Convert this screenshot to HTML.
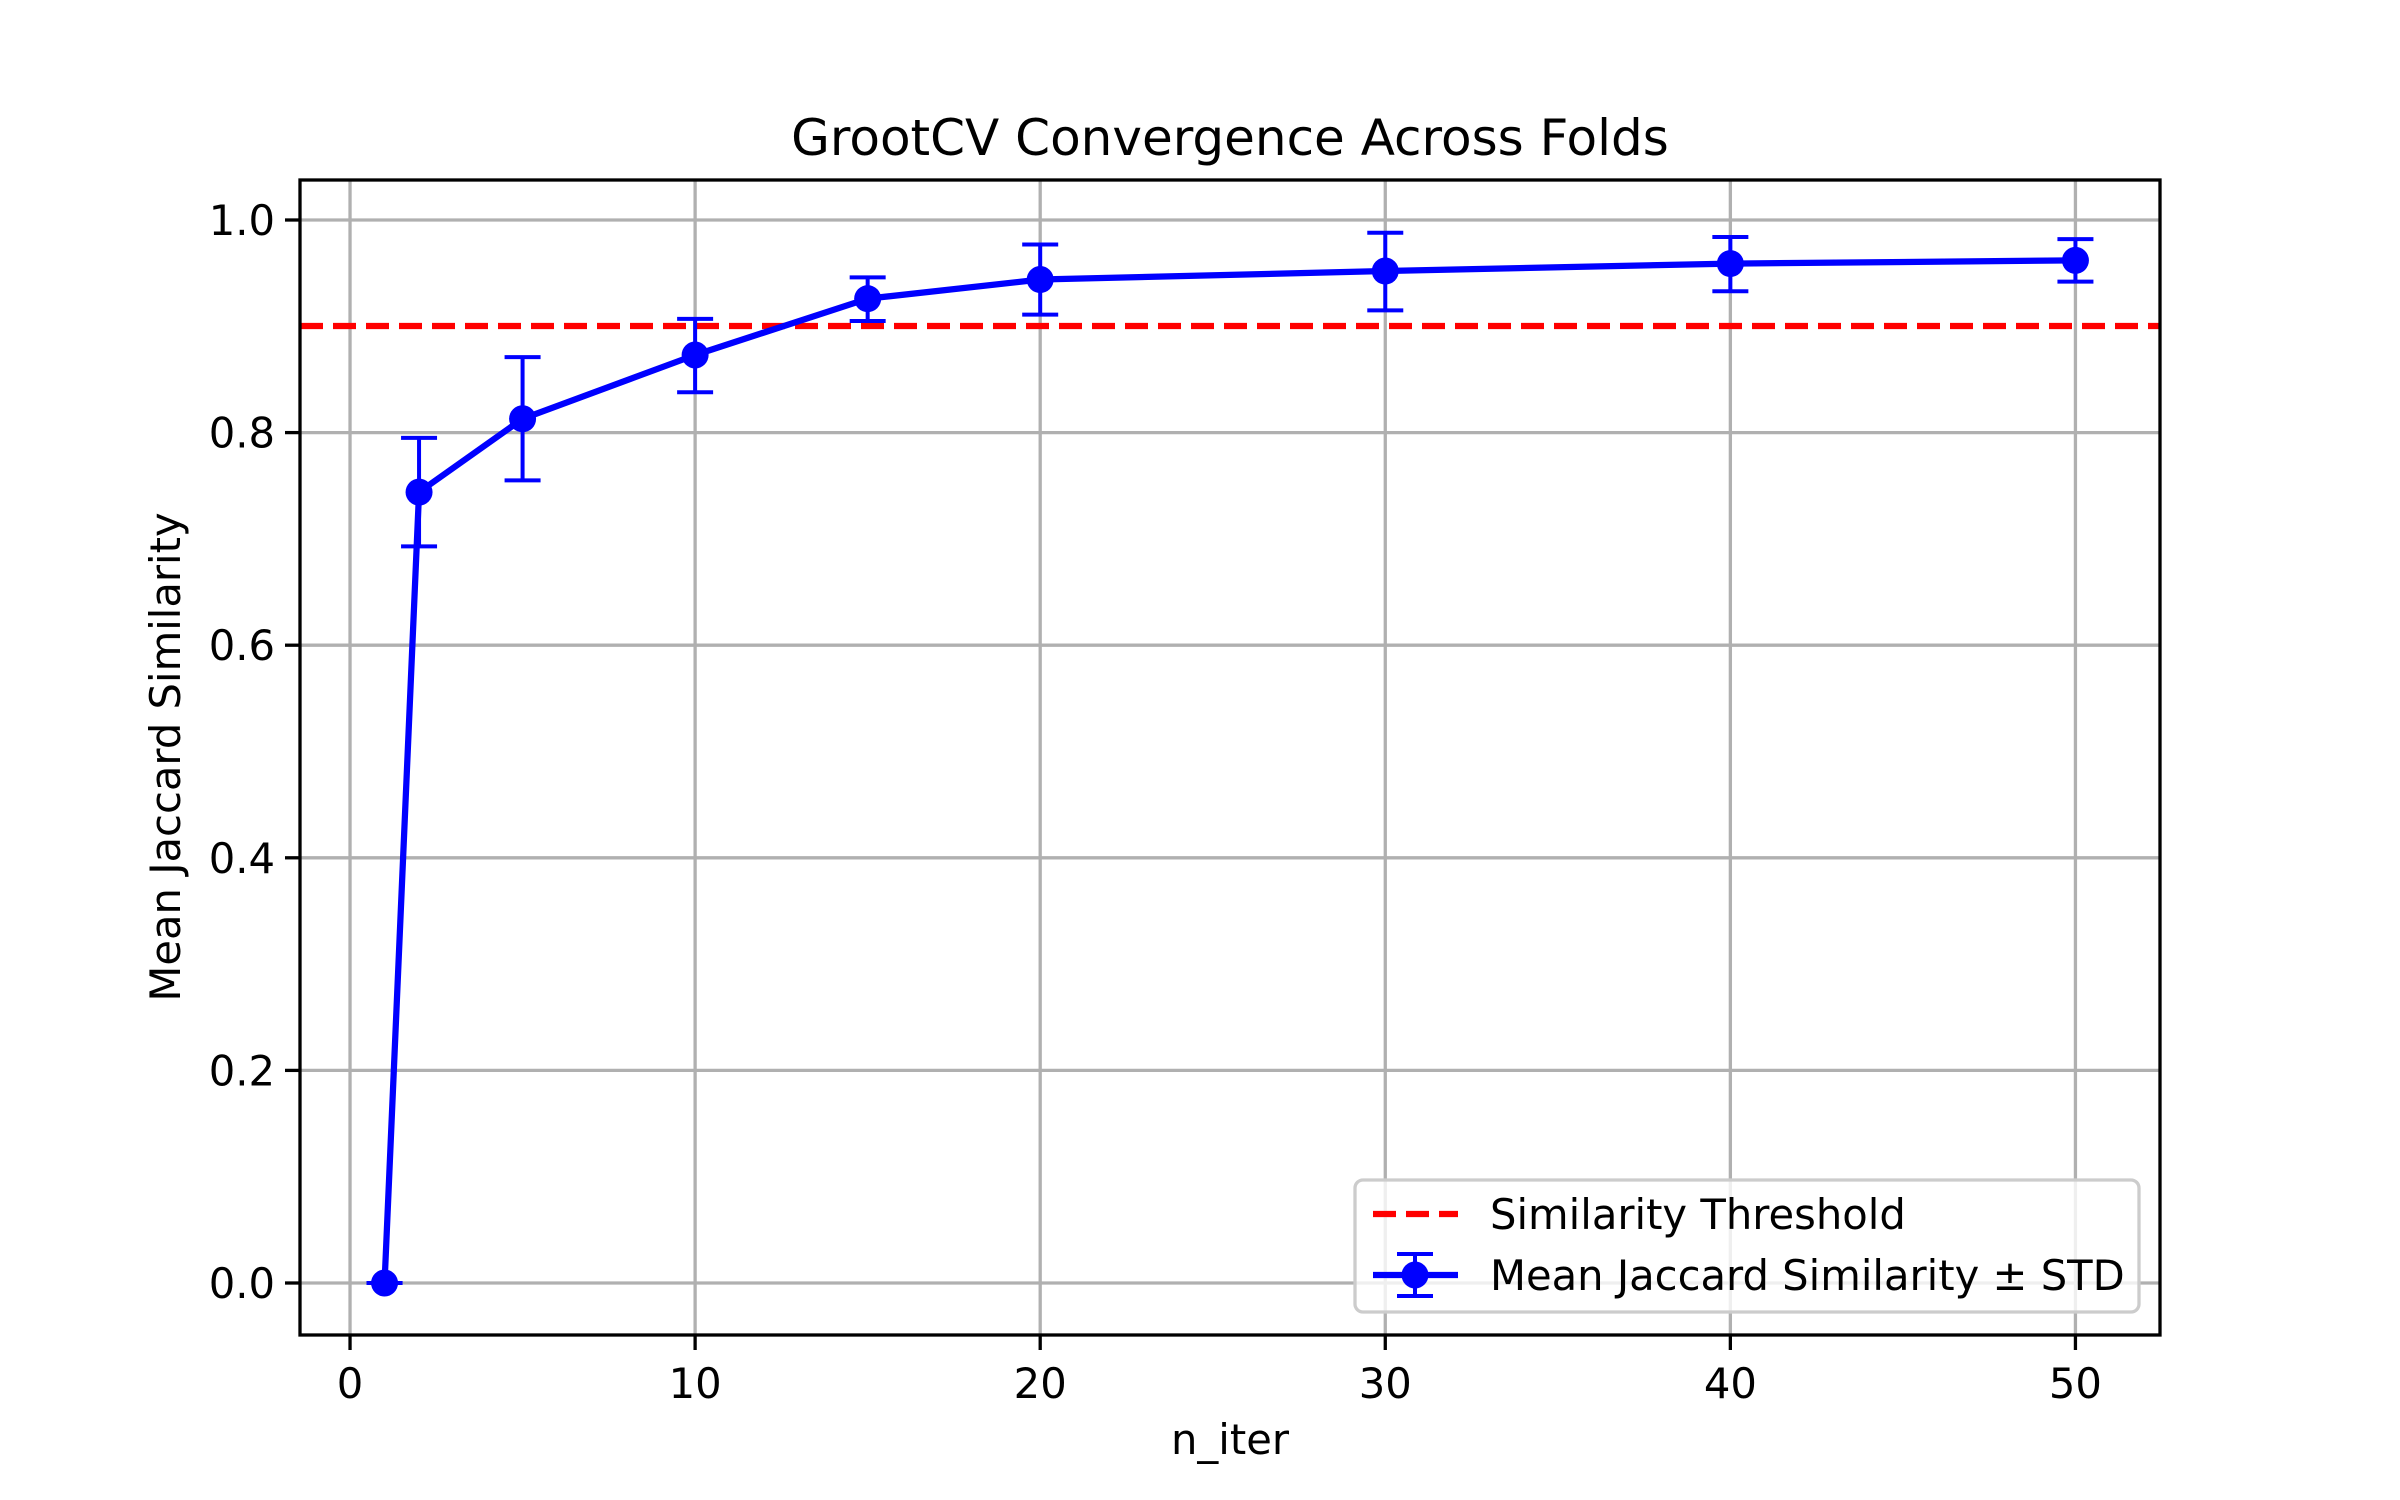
<!DOCTYPE html>
<html><head><meta charset="utf-8"><style>
html,body{margin:0;padding:0;background:#fff;width:2400px;height:1500px;overflow:hidden}
svg{display:block;font-family:"DejaVu Sans","Liberation Sans",sans-serif}
</style></head><body>
<svg id="s" width="2400" height="1500" viewBox="0 0 2400 1500" xmlns="http://www.w3.org/2000/svg">
<rect width="2400" height="1500" fill="#fff"/>
<g id="grid"></g>
<line x1="300" y1="326" x2="2160" y2="326" stroke="#ff0000" stroke-width="6.25" stroke-dasharray="23,10"/>
<g id="data"></g>
<rect x="300" y="180" width="1860" height="1155" fill="none" stroke="#000" stroke-width="3.3"/>
<g id="ticks" font-size="41.7" fill="#000"></g>
<text x="1230" y="155" font-size="50" text-anchor="middle">GrootCV Convergence Across Folds</text>
<text x="1230" y="1454" font-size="41.7" text-anchor="middle">n_iter</text>
<text transform="translate(180,757) rotate(-90)" font-size="41.7" text-anchor="middle">Mean Jaccard Similarity</text>
<rect x="1355" y="1180" width="784" height="132" rx="8" fill="#fff" fill-opacity="0.8" stroke="#ccc" stroke-width="3.3"/>
<line x1="1373" y1="1214" x2="1458" y2="1214" stroke="#ff0000" stroke-width="6.25" stroke-dasharray="23,10"/>
<text x="1490" y="1229" font-size="41.7">Similarity Threshold</text>
<line x1="1373" y1="1275" x2="1458" y2="1275" stroke="#0000ff" stroke-width="6.25"/>
<line x1="1415" y1="1254" x2="1415" y2="1296" stroke="#0000ff" stroke-width="4"/>
<line x1="1397" y1="1254" x2="1433" y2="1254" stroke="#0000ff" stroke-width="4"/>
<line x1="1397" y1="1296" x2="1433" y2="1296" stroke="#0000ff" stroke-width="4"/>
<circle cx="1415" cy="1275" r="13.5" fill="#0000ff"/>
<text x="1490" y="1290" font-size="41.7">Mean Jaccard Similarity ± STD</text>
</svg>
<script>
var X=function(v){return 300+(v+1.45)*34.508;};
var Y=function(v){return 1283-1063*v;};
var ns="http://www.w3.org/2000/svg";
function el(p,t,a,txt){var e=document.createElementNS(ns,t);for(var k in a)e.setAttribute(k,a[k]);if(txt!=null)e.textContent=txt;document.getElementById(p).appendChild(e);}
[0,10,20,30,40,50].forEach(function(v){var x=X(v);
el("grid","line",{x1:x,y1:180,x2:x,y2:1335,stroke:"#b0b0b0","stroke-width":3.3});
el("ticks","line",{x1:x,y1:1335,x2:x,y2:1350,stroke:"#000","stroke-width":3.3});
el("ticks","text",{x:x,y:1398,"text-anchor":"middle"},String(v));});
[0,0.2,0.4,0.6,0.8,1.0].forEach(function(v){var y=Y(v);
el("grid","line",{x1:300,y1:y,x2:2160,y2:y,stroke:"#b0b0b0","stroke-width":3.3});
el("ticks","line",{x1:285,y1:y,x2:300,y2:y,stroke:"#000","stroke-width":3.3});
el("ticks","text",{x:275,y:y+15,"text-anchor":"end"},v.toFixed(1));});
var d=[[1,0,0,0],[2,0.744,0.795,0.693],[5,0.813,0.871,0.755],[10,0.873,0.907,0.838],[15,0.926,0.946,0.905],[20,0.944,0.977,0.911],[30,0.952,0.988,0.915],[40,0.959,0.984,0.933],[50,0.962,0.982,0.942]];
var pts=d.map(function(p){return X(p[0])+","+Y(p[1]);}).join(" ");
d.forEach(function(p){var x=X(p[0]);
el("data","line",{x1:x,y1:Y(p[2]),x2:x,y2:Y(p[3]),stroke:"#0000ff","stroke-width":4});
el("data","line",{x1:x-18,y1:Y(p[2]),x2:x+18,y2:Y(p[2]),stroke:"#0000ff","stroke-width":4});
el("data","line",{x1:x-18,y1:Y(p[3]),x2:x+18,y2:Y(p[3]),stroke:"#0000ff","stroke-width":4});});
el("data","polyline",{points:pts,fill:"none",stroke:"#0000ff","stroke-width":6.25,"stroke-linejoin":"round"});
d.forEach(function(p){el("data","circle",{cx:X(p[0]),cy:Y(p[1]),r:13.5,fill:"#0000ff"});});
</script>
</body></html>
